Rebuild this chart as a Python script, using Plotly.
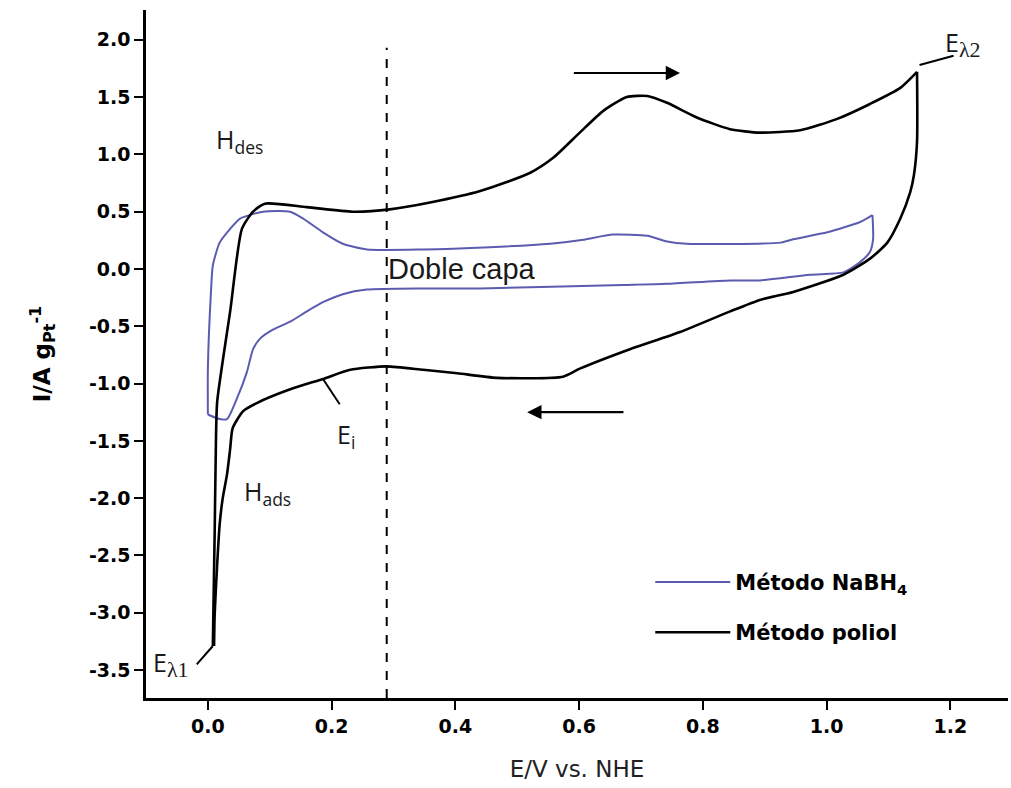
import plotly.graph_objects as go

# Método poliol (black) – anodic sweep (E_λ1 -> E_λ2)
poliol_an_E = [0.008, 0.011, 0.013, 0.015, 0.036, 0.055, 0.073, 0.092, 0.160, 0.234, 0.294, 0.359,
               0.440, 0.521, 0.558, 0.601, 0.639, 0.677, 0.710, 0.742, 0.791, 0.844, 0.892, 0.957,
               1.017, 1.070, 1.119, 1.146]
poliol_an_I = [-3.29, -2.29, -1.51, -1.16, -0.37, 0.35, 0.50, 0.57, 0.54, 0.50, 0.52, 0.58,
               0.68, 0.84, 0.97, 1.19, 1.38, 1.50, 1.51, 1.45, 1.32, 1.22, 1.19, 1.21,
               1.31, 1.44, 1.58, 1.72]
# Método poliol (black) – cathodic sweep (E_λ2 -> E_λ1)
poliol_ca_E = [1.146, 1.146, 1.141, 1.135, 1.119, 1.098, 1.070, 1.027, 0.946, 0.892, 0.844, 0.763,
               0.682, 0.601, 0.574, 0.467, 0.403, 0.348, 0.289, 0.230, 0.186, 0.133, 0.079, 0.057,
               0.040, 0.036, 0.031, 0.024, 0.019, 0.015, 0.011, 0.010]
poliol_ca_I = [1.72, 1.11, 0.82, 0.67, 0.44, 0.23, 0.09, -0.05, -0.20, -0.27, -0.37, -0.55,
               -0.70, -0.87, -0.94, -0.95, -0.91, -0.88, -0.85, -0.88, -0.96, -1.05, -1.17, -1.24,
               -1.39, -1.57, -1.79, -2.00, -2.23, -2.58, -3.01, -3.29]

# Método NaBH4 (blue) – anodic sweep
nabh4_an_E = [0.000, 0.000, 0.005, 0.008, 0.019, 0.036, 0.052, 0.089, 0.133, 0.154, 0.186, 0.218,
              0.257, 0.348, 0.456, 0.553, 0.601, 0.655, 0.710, 0.742, 0.774, 0.925, 0.946, 1.001,
              1.054, 1.074]
nabh4_an_I = [-1.27, -0.87, -0.20, 0.03, 0.23, 0.35, 0.44, 0.50, 0.50, 0.44, 0.32, 0.22,
              0.17, 0.17, 0.19, 0.22, 0.25, 0.30, 0.29, 0.24, 0.22, 0.23, 0.26, 0.32,
              0.41, 0.47]
# Método NaBH4 (blue) – cathodic sweep
nabh4_ca_E = [1.074, 1.075, 1.070, 1.054, 1.027, 0.973, 0.892, 0.844, 0.742, 0.671, 0.440, 0.348,
              0.257, 0.218, 0.186, 0.160, 0.133, 0.105, 0.084, 0.073, 0.063, 0.047, 0.031, 0.019,
              0.000]
nabh4_ca_I = [0.47, 0.26, 0.15, 0.06, -0.03, -0.05, -0.10, -0.10, -0.13, -0.14, -0.17, -0.17,
              -0.18, -0.22, -0.29, -0.37, -0.46, -0.53, -0.61, -0.70, -0.90, -1.13, -1.31, -1.31,
              -1.27]

x_ticks = [0.0, 0.2, 0.4, 0.6, 0.8, 1.0, 1.2]
y_ticks = [-3.5, -3.0, -2.5, -2.0, -1.5, -1.0, -0.5, 0.0, 0.5, 1.0, 1.5, 2.0]

dashed_E = 0.289
dashed_top = 1.93

sans = "Open Sans"
BLUE = "#5b5bb0"

fig = go.Figure()
fig.add_trace(go.Scatter(x=nabh4_an_E, y=nabh4_an_I, mode="lines", name="Método NaBH<sub>4</sub>",
                         line=dict(color=BLUE, width=2, shape="spline", smoothing=0.6),
                         legendgroup="a"))
fig.add_trace(go.Scatter(x=nabh4_ca_E, y=nabh4_ca_I, mode="lines", showlegend=False,
                         line=dict(color=BLUE, width=2, shape="spline", smoothing=0.6),
                         legendgroup="a"))
fig.add_trace(go.Scatter(x=poliol_an_E, y=poliol_an_I, mode="lines", name="Método poliol",
                         line=dict(color="black", width=2.6, shape="spline", smoothing=0.6),
                         legendgroup="b"))
fig.add_trace(go.Scatter(x=poliol_ca_E, y=poliol_ca_I, mode="lines", showlegend=False,
                         line=dict(color="black", width=2.6, shape="spline", smoothing=0.6),
                         legendgroup="b"))

# dashed vertical line
fig.add_shape(type="line", x0=dashed_E, x1=dashed_E, y0=-3.744, y1=dashed_top, xref="x", yref="y",
              line=dict(color="black", width=2, dash="dash"))

# leader lines
leaders = [((0.008, -3.29), (-0.018, -3.45)),
           ((1.150, 1.78), (1.205, 1.86)),
           ((0.186, -0.96), (0.213, -1.18))]
for (xa, ya), (xb, yb) in leaders:
    fig.add_shape(type="line", x0=xa, y0=ya, x1=xb, y1=yb, xref="x", yref="y",
                  line=dict(color="black", width=2))

# sweep arrows
fig.add_annotation(x=0.763, y=1.71, ax=0.589, ay=1.71, xref="x", yref="y", axref="x", ayref="y",
                   showarrow=True, arrowhead=2, arrowsize=1.3, arrowwidth=2.2, arrowcolor="black", text="")
fig.add_annotation(x=0.516, y=-1.25, ax=0.674, ay=-1.25, xref="x", yref="y", axref="x", ayref="y",
                   showarrow=True, arrowhead=2, arrowsize=1.3, arrowwidth=2.2, arrowcolor="black", text="")

SER = "<span style='font-family:Liberation Serif;font-size:22px'>"
labels = [
    (0.010, 1.12, "H<sub>des</sub>", 25, sans),
    (0.055, -1.95, "H<sub>ads</sub>", 25, sans),
    (0.205, -1.45, "E<sub>i</sub>", 25, sans),
    (0.288, 0.00, "Doble capa", 29, "Liberation Sans"),
    (-0.092, -3.44, "E<sub>" + SER + "λ1</span></sub>", 25, sans),
    (1.188, 1.97, "E<sub>" + SER + "λ2</span></sub>", 25, sans),
]
for x, y, t, s, f in labels:
    fig.add_annotation(x=x, y=y, xref="x", yref="y", text=t, showarrow=False, xanchor="left",
                       font=dict(family=f, size=s, color="#1a1a1a"))

fig.update_layout(
    width=1011, height=788,
    margin=dict(l=146, r=3, t=10, b=90),
    plot_bgcolor="white", paper_bgcolor="white",
    showlegend=True,
    legend=dict(x=0.585, y=0.198, xanchor="left", yanchor="top", bgcolor="rgba(0,0,0,0)",
                font=dict(family="DejaVu Sans", size=21, color="black", weight="bold"),
                itemwidth=75, tracegroupgap=20),
    xaxis=dict(range=[-0.1, 1.293], tickvals=x_ticks, ticktext=[f"{v:.1f}" for v in x_ticks],
               showgrid=False, zeroline=False, showline=True, linecolor="black", linewidth=2.5,
               ticks="outside", ticklen=9, tickwidth=2, tickcolor="black",
               tickfont=dict(family="DejaVu Sans", size=19, color="black", weight="bold"),
               title=dict(text="E/V vs. NHE", font=dict(family="DejaVu Sans", size=23, color="#222"),
                          standoff=26)),
    yaxis=dict(range=[-3.744, 2.26], tickvals=y_ticks, ticktext=[f"{v:.1f}" for v in y_ticks],
               showgrid=False, zeroline=False, showline=True, linecolor="black", linewidth=2.5,
               ticks="outside", ticklen=9, tickwidth=2, tickcolor="black",
               tickfont=dict(family="DejaVu Sans", size=19, color="black", weight="bold"),
               title=dict(text="I/A g<sub>Pt</sub><sup>-1</sup>",
                          font=dict(family="DejaVu Sans", size=23, color="black", weight="bold"),
                          standoff=32)),
)

fig.write_html("out.html")
